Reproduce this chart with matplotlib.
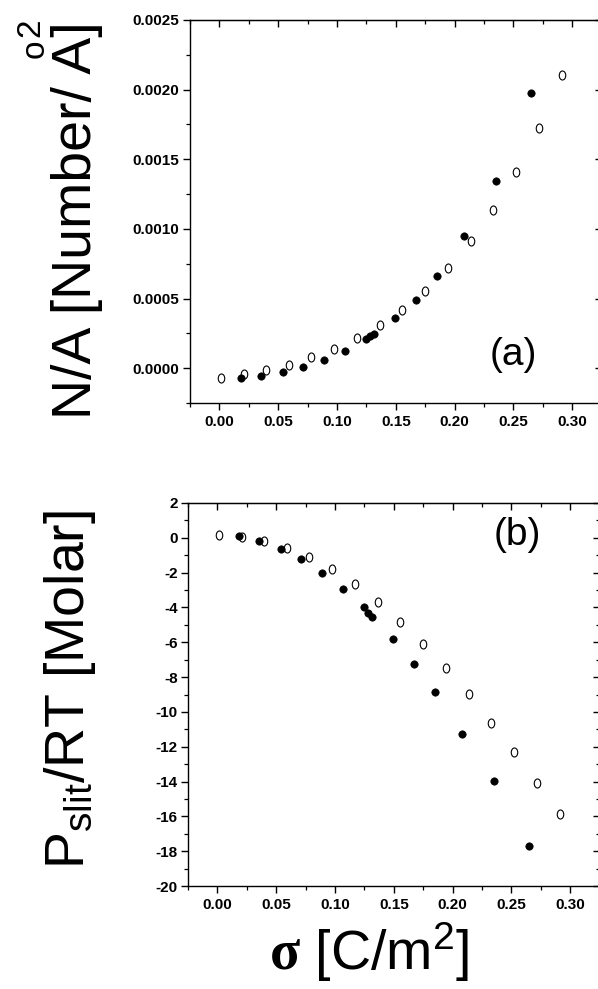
import numpy as np
import matplotlib
matplotlib.use("Agg")
import matplotlib.pyplot as plt
from matplotlib.path import Path
from matplotlib.transforms import Affine2D
from matplotlib.ticker import MultipleLocator, FormatStrFormatter

plt.rcParams['font.family'] = ['Liberation Sans', 'DejaVu Sans']
plt.rcParams['mathtext.fontset'] = 'custom'
plt.rcParams['mathtext.rm'] = 'Liberation Sans'
plt.rcParams['mathtext.sf'] = 'Liberation Sans'
plt.rcParams['mathtext.it'] = 'Liberation Sans:italic'
plt.rcParams['mathtext.bf'] = 'Liberation Serif:bold'

# surface charge density sigma [C/m2]
sigma_open = [0.001, 0.0207, 0.040, 0.059, 0.078, 0.0975, 0.117, 0.1365,
              0.1555, 0.175, 0.194, 0.2137, 0.2328, 0.252, 0.2715, 0.291]
sigma_filled = [0.018, 0.0357, 0.0537, 0.0715, 0.089, 0.1069, 0.1247, 0.1281,
                0.1316, 0.1494, 0.1675, 0.1848, 0.2084, 0.2353, 0.2652]

# (a) N/A [Number/A^2]
na_open = [-0.000070, -0.000043, -0.000014, 0.000026, 0.000079, 0.000139,
           0.000216, 0.000309, 0.000419, 0.000555, 0.000716, 0.000910,
           0.001137, 0.001410, 0.001726, 0.002103]
na_filled = [-0.000070, -0.000055, -0.000026, 0.000010, 0.000057, 0.000124,
             0.000206, 0.000230, 0.000249, 0.000359, 0.000493, 0.000661,
             0.000946, 0.001343, 0.001973]

# (b) P_slit/RT [Molar]
p_open = [0.16, 0.07, -0.17, -0.57, -1.12, -1.81, -2.67, -3.70, -4.85,
          -6.10, -7.46, -8.99, -10.62, -12.32, -14.10, -15.88]
p_filled = [0.10, -0.18, -0.62, -1.22, -2.00, -2.92, -4.00, -4.30, -4.53,
            -5.83, -7.27, -8.88, -11.27, -13.97, -17.70]

# slightly tall ellipse used for the open symbols
ellipse = Path.unit_circle().transformed(Affine2D().scale(0.72, 1.0))

tick_font = {'family': ['Liberation Sans Narrow', 'Liberation Sans', 'DejaVu Sans'],
             'weight': 'bold', 'size': 11}

fig = plt.figure(figsize=(5.98, 9.89), dpi=100)
ax1 = fig.add_axes([190 / 598, 1 - 403 / 989, 411.6 / 598, 383 / 989])
ax2 = fig.add_axes([188 / 598, 1 - 886 / 989, 411.6 / 598, 383 / 989])


def px(x, y):
    # figure fraction from pixel position (origin top left)
    return x / 598, 1 - y / 989


def style_axes(ax, ymaj, ymin, yfmt):
    ax.set_xlim(-0.025, 0.325)
    ax.xaxis.set_major_locator(MultipleLocator(0.05))
    ax.xaxis.set_minor_locator(MultipleLocator(0.025))
    ax.xaxis.set_major_formatter(FormatStrFormatter('%.2f'))
    ax.yaxis.set_major_locator(MultipleLocator(ymaj))
    ax.yaxis.set_minor_locator(MultipleLocator(ymin))
    ax.yaxis.set_major_formatter(FormatStrFormatter(yfmt))
    for s in ax.spines.values():
        s.set_linewidth(1.0)
    ax.tick_params(which='major', direction='out', length=5, width=1.0, pad=2.5)
    ax.tick_params(which='minor', direction='out', length=3, width=0.9)
    ax.tick_params(axis='x', which='major', pad=3.5)
    for lab in ax.get_xticklabels() + ax.get_yticklabels():
        lab.set_fontproperties(matplotlib.font_manager.FontProperties(**tick_font))
    # inward ticks on top and right
    top = ax.secondary_xaxis('top')
    top.xaxis.set_major_locator(MultipleLocator(0.05))
    top.xaxis.set_minor_locator(MultipleLocator(0.025))
    top.tick_params(which='major', direction='in', length=5, width=1.0, labeltop=False)
    top.tick_params(which='minor', direction='in', length=3, width=0.9)
    right = ax.secondary_yaxis('right')
    right.yaxis.set_major_locator(MultipleLocator(ymaj))
    right.yaxis.set_minor_locator(MultipleLocator(ymin))
    right.tick_params(which='major', direction='in', length=5, width=1.0, labelright=False)
    right.tick_params(which='minor', direction='in', length=3, width=0.9)


ax1.set_ylim(-0.00025, 0.0025)
ax2.set_ylim(-20, 2)
style_axes(ax1, 0.0005, 0.00025, '%.4f')
style_axes(ax2, 2, 1, '%d')

for ax, yo, yf in [(ax1, na_open, na_filled), (ax2, p_open, p_filled)]:
    ax.plot(sigma_open, yo, linestyle='none', marker=ellipse, markersize=6.5,
            markerfacecolor='white', markeredgecolor='black', markeredgewidth=0.8)
    ax.plot(sigma_filled, yf, linestyle='none', marker='o', markersize=5.3,
            markerfacecolor='black', markeredgecolor='black', markeredgewidth=0.5)

fig.text(*px(513, 355), '(a)', ha='center', va='center', fontsize=28)
fig.text(*px(517, 535), '(b)', ha='center', va='center', fontsize=28)

# y label of (a): Angstrom drawn as A with a ring "o" above it, squared
fig.text(*px(91, 220), 'N/A [Number/ A]', rotation=90, rotation_mode='anchor',
         ha='center', va='baseline', fontsize=40)
fig.text(*px(35, 49), 'o', rotation=90, ha='center', va='center', fontsize=24)
fig.text(*px(31, 28), '2', rotation=90, ha='center', va='center', fontsize=24)

fig.text(*px(70, 690), r'P$_{\mathrm{slit}}$/RT [Molar]',
         rotation=90, ha='center', va='center', fontsize=40)
fig.text(*px(369, 970), r'$\mathbf{\sigma}$ [C/m$^{2}$]',
         ha='center', va='baseline', fontsize=40)

fig.savefig('out.png', dpi=100)
